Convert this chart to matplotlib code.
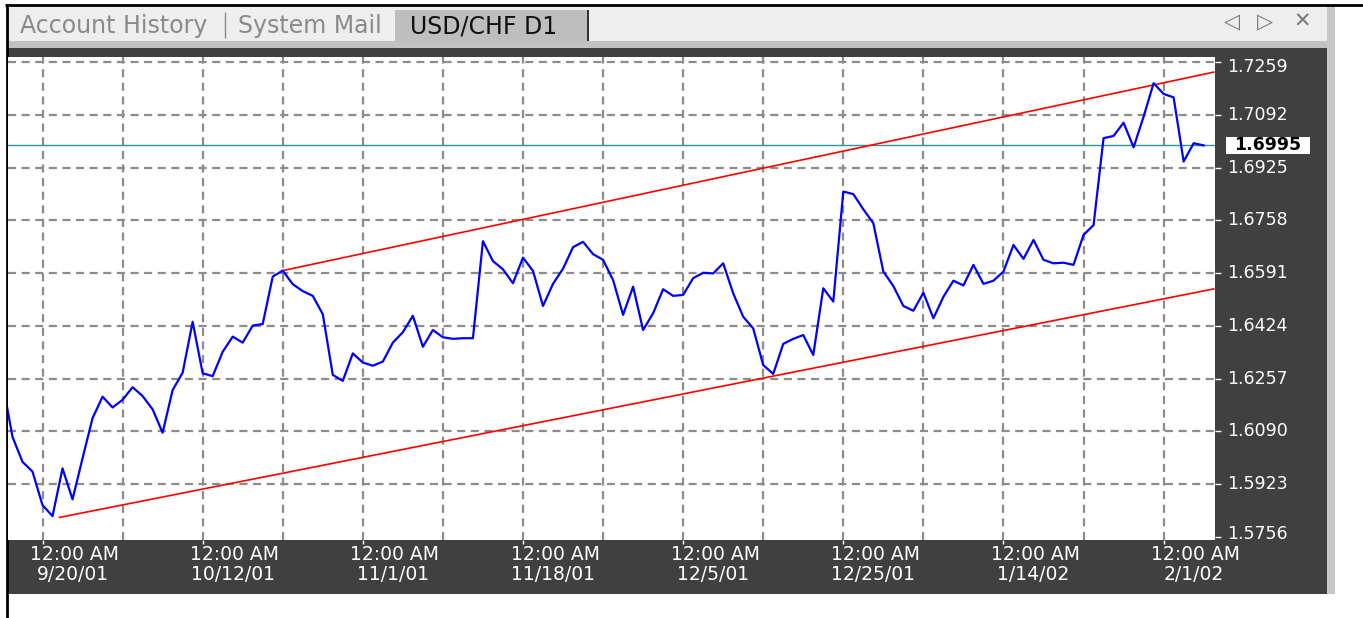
import matplotlib
matplotlib.use('Agg')
import matplotlib.pyplot as plt
from matplotlib.patches import Rectangle
from matplotlib.lines import Line2D
from matplotlib.transforms import ScaledTranslation

# ---------------- data ----------------
first_bar = -4
close_prices = [
    1.6247, 1.6073, 1.5994, 1.5963,
    1.5857, 1.5822, 1.5973, 1.5875, 1.6005, 1.6132, 1.6200, 1.6166, 1.6190, 1.6230,
    1.6202, 1.6160, 1.6086, 1.6221, 1.6276, 1.6437, 1.6274, 1.6265, 1.6342, 1.6390,
    1.6371, 1.6425, 1.6430, 1.6580, 1.6599, 1.6556, 1.6534, 1.6519, 1.6461, 1.6269,
    1.6250, 1.6337, 1.6308, 1.6298, 1.6311, 1.6371, 1.6404, 1.6456, 1.6358, 1.6411,
    1.6388, 1.6383, 1.6385, 1.6385, 1.6692, 1.6629, 1.6603, 1.6559, 1.6640, 1.6598,
    1.6487, 1.6557, 1.6605, 1.6673, 1.6690, 1.6651, 1.6633, 1.6569, 1.6459, 1.6548,
    1.6411, 1.6464, 1.6540, 1.6519, 1.6522, 1.6575, 1.6592, 1.6590, 1.6622, 1.6527,
    1.6453, 1.6416, 1.6300, 1.6272, 1.6367, 1.6383, 1.6395, 1.6332, 1.6543, 1.6501,
    1.6849, 1.6841, 1.6793, 1.6749, 1.6596, 1.6550, 1.6487, 1.6472, 1.6529, 1.6448,
    1.6516, 1.6567, 1.6552, 1.6617, 1.6557, 1.6567, 1.6596, 1.6680, 1.6636, 1.6696,
    1.6633, 1.6622, 1.6624, 1.6617, 1.6712, 1.6743, 1.7018, 1.7025, 1.7067, 1.6989,
    1.7086, 1.7192, 1.7158, 1.7147, 1.6944, 1.7002, 1.6995,
]
bars = list(range(first_bar, first_bar + len(close_prices)))

upper_channel_bars = [24, 117]
upper_channel_prices = [1.6599, 1.7227]
lower_channel_bars = [1.7, 117]
lower_channel_prices = [1.5818, 1.6541]
current_price = 1.6995
current_price_label = '1.6995'

price_levels = [1.7259, 1.7092, 1.6925, 1.6758, 1.6591, 1.6424, 1.6257, 1.6090, 1.5923, 1.5756]
price_labels = ['1.7259', '1.7092', '1.6925', '1.6758', '1.6591', '1.6424', '1.6257',
                '1.6090', '1.5923', '1.5756']
grid_bars = list(range(0, 113, 8))
time_label_bars = [0, 16, 32, 48, 64, 80, 96, 112]
time_labels_top = ['12:00 AM'] * 8
time_labels_bottom = ['9/20/01', '10/12/01', '11/1/01', '11/18/01', '12/5/01',
                      '12/25/01', '1/14/02', '2/1/02']
tab_titles = ['Account History', 'System Mail', 'USD/CHF D1']

# ---------------- layout ----------------
W, H = 1363, 618
plt.rcParams['font.family'] = ['DejaVu Sans']
plt.rcParams['lines.scale_dashes'] = False
fig = plt.figure(figsize=(W / 100, H / 100), dpi=100)
fig.patch.set_facecolor('white')


def fx(x):
    return x / W


def fy(y):
    return 1 - y / H


def rect(x0, y0, x1, y1, color, z=-5):
    fig.add_artist(Rectangle((fx(x0), fy(y1)), (x1 - x0) / W, (y1 - y0) / H,
                             transform=fig.transFigure, facecolor=color,
                             edgecolor='none', lw=0, zorder=z))


def hline(x0, x1, y, color, lw, z=-4):
    fig.add_artist(Line2D([fx(x0), fx(x1)], [fy(y), fy(y)], transform=fig.transFigure,
                          color=color, lw=lw, zorder=z, solid_capstyle='butt'))


def vline(x, y0, y1, color, lw, z=-4):
    fig.add_artist(Line2D([fx(x), fx(x)], [fy(y0), fy(y1)], transform=fig.transFigure,
                          color=color, lw=lw, zorder=z, solid_capstyle='butt'))


# window chrome
rect(8, 6, 1327, 41, '#EEEEEE')            # tab bar
rect(8, 41, 1327, 49, '#C2C2C2')           # light band
rect(8, 48, 1327, 594, '#404040')          # dark chart panel
rect(1327, 6, 1335, 594, '#C8C8C8')        # right strip
rect(395, 10, 588, 41, '#BEBEBE')          # active tab
vline(588, 10, 41, '#303030', 1.4)
vline(225, 12, 38, '#8C8C8C', 1.0)
hline(5, W, 5, 'black', 2.0, z=-3)
vline(7, 4, H, 'black', 2.0, z=-3)

tab_x = [20, 238, 410]
tab_colors = ['#8A8A8A', '#8A8A8A', '#111111']
for t, x, c in zip(tab_titles, tab_x, tab_colors):
    fig.text(fx(x), fy(26), t, fontsize=17, color=c, ha='left', va='center')

for sym, x in zip(['\u25C1', '\u25B7', '\u2715'], [1232, 1265, 1302]):
    fig.text(fx(x), fy(22), sym, fontsize=15, color='#7A7A7A', ha='center', va='center')

# plot axes
ax_l, ax_r, ax_t, ax_b = 8, 1215, 57, 540
ax = fig.add_axes([fx(ax_l), fy(ax_b), (ax_r - ax_l) / W, (ax_b - ax_t) / H])
ax.set_facecolor('white')
for s in ax.spines.values():
    s.set_visible(False)

x_left = (ax_l - 42.5) / 10.01
x_right = (ax_r - 42.5) / 10.01
ax.set_xlim(x_left, x_right)
y_per_px = 0.1503 / 475.0
ax.set_ylim(1.7259 - (ax_b - 62) * y_per_px, 1.7259 + (62 - ax_t) * y_per_px)

grid_kw = dict(color='#8C8C8C', lw=1.6, linestyle=(0, (5.8, 4.0)), zorder=1)
for lv in price_levels[:-1]:
    ax.axhline(lv, **grid_kw)
for gb in grid_bars:
    ax.axvline(gb, **grid_kw)

ax.axhline(current_price, color='#2A9696', lw=1.0, zorder=2)
ax.plot(upper_channel_bars, upper_channel_prices, color='#FF0000', lw=1.2, zorder=3)
ax.plot(lower_channel_bars, lower_channel_prices, color='#FF0000', lw=1.2, zorder=3)
ax.plot(bars, close_prices, color='#0000FF', lw=1.6, zorder=4, solid_joinstyle='round')

# ticks
ax.set_yticks(price_levels)
ax.yaxis.set_ticks_position('right')
ax.tick_params(axis='y', which='major', right=True, left=False, labelright=False,
               labelleft=False, length=4.5, width=1.0, color='white', direction='out')
ax.set_xticks(time_label_bars)
ax.tick_params(axis='x', which='major', bottom=True, labelbottom=False,
               length=3.0, width=1.0, color='white', direction='out')

# price labels on the right
ytrans = ax.get_yaxis_transform()
ax_w = ax_r - ax_l
lab_x = (1227 - ax_l) / ax_w
for i, (lv, lab) in enumerate(zip(price_levels, price_labels)):
    tr = ytrans
    if i == 0:
        tr = ytrans + ScaledTranslation(0, -5 / 100, fig.dpi_scale_trans)
    elif i == len(price_levels) - 1:
        tr = ytrans + ScaledTranslation(0, 3 / 100, fig.dpi_scale_trans)
    ax.text(lab_x, lv, lab, transform=tr, color='white', fontsize=12.5,
            ha='left', va='center', clip_on=False)

# current price box
box_x0, box_x1 = (1226 - ax_l) / ax_w, (1310 - ax_l) / ax_w
box_h = 17 * y_per_px
ax.add_patch(Rectangle((box_x0, current_price - box_h / 2 - 0.5 * y_per_px),
                       box_x1 - box_x0, box_h, transform=ytrans, facecolor='white',
                       edgecolor='none', clip_on=False, zorder=5))
ax.text((box_x0 + box_x1) / 2, current_price, current_price_label, transform=ytrans,
        color='black', fontsize=12.5, fontweight='bold', ha='center', va='center',
        clip_on=False, zorder=6)

# time labels
xtrans = ax.get_xaxis_transform()
ax_h = ax_b - ax_t
for b, t1, t2 in zip(time_label_bars, time_labels_top, time_labels_bottom):
    ax.text(b + 3.2, (ax_b - 555) / ax_h, t1, transform=xtrans, color='white',
            fontsize=13.5, ha='center', va='center', clip_on=False)
    ax.text(b + 3.0, (ax_b - 575) / ax_h, t2, transform=xtrans, color='white',
            fontsize=13.5, ha='center', va='center', clip_on=False)

fig.savefig('out.png', dpi=100, facecolor='white')
